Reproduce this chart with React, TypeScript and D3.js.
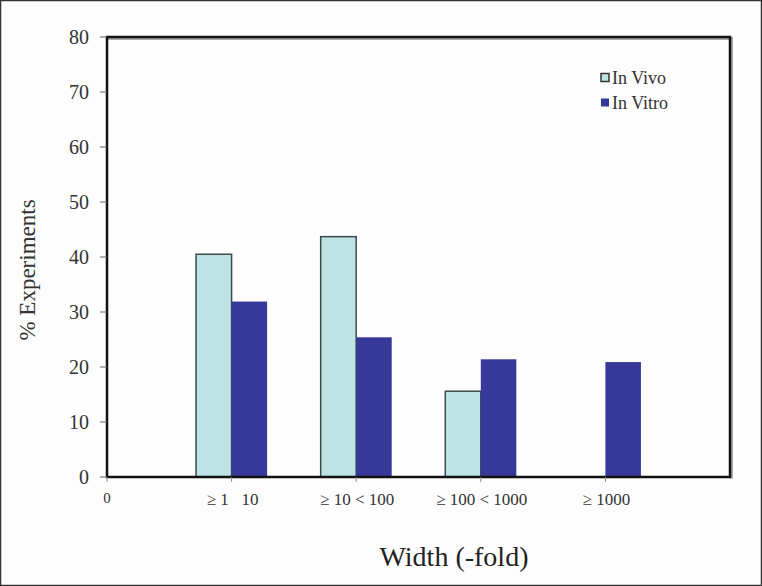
import React, { useEffect, useRef } from 'react';
import * as d3 from 'd3';

const categories = ['\u2265 1   10', '\u2265 10 < 100', '\u2265 100 < 1000', '\u2265 1000'];
const inVivo = [40.5, 43.7, 15.6, 0];
const inVitro = [31.9, 25.4, 21.4, 20.9];
const yTicks = [0, 10, 20, 30, 40, 50, 60, 70, 80];

const App = () => {
  const svgRef = useRef<SVGSVGElement>(null);

  useEffect(() => {
    const width = 762;
    const height = 586;
    const margin = { top: 37, right: 32, bottom: 109, left: 107 };
    const font = 'Liberation Serif';

    const svg = d3.select(svgRef.current)
      .attr('width', width)
      .attr('height', height);
    svg.selectAll('*').remove();

    svg.append('rect')
      .attr('x', 0.5).attr('y', 0.5)
      .attr('width', width - 1).attr('height', height - 1)
      .attr('fill', '#fdfdfd')
      .attr('stroke', '#333').attr('stroke-width', 1.5);

    const x = d3.scaleLinear()
      .domain([0, 5])
      .range([margin.left, width - margin.right]);
    const y = d3.scaleLinear()
      .domain([0, 80])
      .range([height - margin.bottom, margin.top]);

    const barW = x(0.285) - x(0);

    // frame shadow on top/right
    svg.append('path')
      .attr('d', `M${x(0)},${y(80) + 1.5}H${x(5) + 1.5}V${y(0) + 1.5}`)
      .attr('fill', 'none')
      .attr('stroke', '#aaa').attr('stroke-width', 3);

    // bars
    const g = svg.append('g');
    g.selectAll('rect.vivo')
      .data(inVivo)
      .enter()
      .filter(d => d > 0)
      .append('rect')
      .attr('class', 'vivo')
      .attr('x', (d, i) => x(i + 1) - barW)
      .attr('y', d => y(d))
      .attr('width', barW)
      .attr('height', d => y(0) - y(d))
      .attr('fill', '#bde3e5')
      .attr('stroke', '#3b4a4c')
      .attr('stroke-width', 1.5);

    g.selectAll('rect.vitro')
      .data(inVitro)
      .enter()
      .append('rect')
      .attr('class', 'vitro')
      .attr('x', (d, i) => x(i + 1))
      .attr('y', d => y(d))
      .attr('width', barW)
      .attr('height', d => y(0) - y(d))
      .attr('fill', '#36389a');

    // frame
    svg.append('path')
      .attr('d', `M${x(0)},${y(0)}V${y(80)}H${x(5)}V${y(0)}Z`)
      .attr('fill', 'none')
      .attr('stroke', '#111').attr('stroke-width', 2.5);

    // y axis ticks
    const yAxis = svg.append('g');
    yAxis.selectAll('line')
      .data(yTicks)
      .enter()
      .append('line')
      .attr('x1', x(0) - 7).attr('x2', x(0))
      .attr('y1', d => y(d)).attr('y2', d => y(d))
      .attr('stroke', '#666').attr('stroke-width', 1);
    yAxis.selectAll('text')
      .data(yTicks)
      .enter()
      .append('text')
      .attr('x', x(0) - 18)
      .attr('y', d => y(d))
      .attr('dy', '0.35em')
      .attr('text-anchor', 'end')
      .attr('font-family', font)
      .attr('font-size', 20)
      .attr('fill', '#333')
      .text(d => d);

    // x axis ticks
    const xTicks = [0, 1, 2, 3, 4];
    svg.append('g').selectAll('line')
      .data(xTicks)
      .enter()
      .append('line')
      .attr('x1', d => x(d)).attr('x2', d => x(d))
      .attr('y1', y(0)).attr('y2', y(0) + 5)
      .attr('stroke', '#888').attr('stroke-width', 1);

    svg.append('text')
      .attr('x', x(0))
      .attr('y', y(0) + 26)
      .attr('text-anchor', 'middle')
      .attr('font-family', font)
      .attr('font-size', 15)
      .attr('fill', '#333')
      .text('0');

    svg.append('g').selectAll('text')
      .data(categories)
      .enter()
      .append('text')
      .attr('x', (d, i) => x(i + 1) + 1)
      .attr('y', y(0) + 28)
      .attr('text-anchor', 'middle')
      .attr('font-family', font)
      .attr('font-size', 17)
      .attr('fill', '#333')
      .style('white-space', 'pre')
      .text(d => d);

    // axis titles
    svg.append('text')
      .attr('transform', `translate(35,${270}) rotate(-90)`)
      .attr('text-anchor', 'middle')
      .attr('font-family', font)
      .attr('font-size', 23)
      .attr('fill', '#333')
      .text('% Experiments');

    svg.append('text')
      .attr('x', 454)
      .attr('y', 566)
      .attr('text-anchor', 'middle')
      .attr('font-family', font)
      .attr('font-size', 28)
      .attr('fill', '#222')
      .text('Width (-fold)');

    // legend
    const legend = [
      { label: 'In Vivo', fill: '#bde3e5', stroke: '#333' },
      { label: 'In Vitro', fill: '#36389a', stroke: 'none' },
    ];
    const lg = svg.append('g').attr('transform', 'translate(601,78)');
    legend.forEach((d, i) => {
      lg.append('rect')
        .attr('x', 0).attr('y', i * 25 - 4.5)
        .attr('width', 8).attr('height', 8)
        .attr('fill', d.fill)
        .attr('stroke', d.stroke)
        .attr('stroke-width', 1.5);
      lg.append('text')
        .attr('x', 11).attr('y', i * 25 + 6)
        .attr('font-family', font)
        .attr('font-size', 18)
        .attr('fill', '#333')
        .text(d.label);
    });
  }, []);

  return (
    <svg ref={svgRef} style={{ position: 'absolute', left: 0, top: 0 }}></svg>
  );
};

export default App;
